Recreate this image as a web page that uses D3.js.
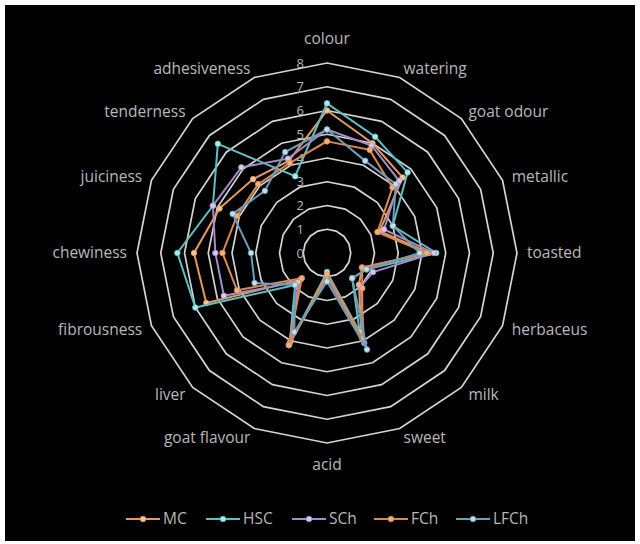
<!DOCTYPE html>
<html>
<head>
<meta charset="utf-8">
<script src="https://cdn.jsdelivr.net/npm/d3@7"></script>
<style>
  html, body { margin: 0; padding: 0; background: #ffffff; }
  svg { display: block; }
  text { font-family: "Open Sans", Lato, sans-serif; fill: #b8b8b8; }
</style>
</head>
<body>
<svg id="chart" width="640" height="544"></svg>
<script>
// Sensory attributes, clockwise from the top
const attributes = ["colour", "watering", "goat odour", "metallic", "toasted", "herbaceus",
  "milk", "sweet", "acid", "goat flavour", "liver", "fibrousness", "chewiness",
  "juiciness", "tenderness", "adhesiveness"];

const ringTicks = [0, 1, 2, 3, 4, 5, 6, 7, 8];

const seriesNames = ["MC", "HSC", "SCh", "FCh", "LFCh"];

// Panel scores per attribute (same order as `attributes`)
const MC   = [6.0, 5.0, 4.5, 2.4, 4.3, 1.6, 1.9, 3.8, 1.0, 4.2, 1.6, 5.5, 5.6, 4.9, 4.4, 4.2];
const HSC  = [6.3, 5.3, 4.8, 3.0, 4.6, 1.8, 1.5, 3.6, 0.8, 4.1, 1.9, 6.0, 6.3, 5.2, 6.5, 3.5];
const SCh  = [5.2, 4.9, 4.3, 2.6, 4.5, 2.1, 2.0, 4.1, 1.0, 4.0, 1.7, 4.7, 4.7, 5.2, 5.1, 4.3];
const FCh  = [4.7, 4.7, 3.9, 2.3, 4.2, 1.6, 2.1, 3.9, 0.9, 4.2, 1.5, 4.1, 4.4, 4.1, 4.1, 4.1];
const LFCh = [5.2, 4.2, 4.1, 3.0, 3.9, 1.8, 1.5, 4.4, 1.2, 3.6, 1.9, 3.3, 3.2, 4.3, 3.7, 4.6];

const seriesValues = [MC, HSC, SCh, FCh, LFCh];
const lineColors   = ["#e39a5c", "#5fbfc4", "#a58bc9", "#dc8a4e", "#6b9fb8"];
const dotColors    = ["#f5c59a", "#a8ecec", "#d8c8f0", "#f2b080", "#c0e0ee"];

const svg = d3.select("#chart");
svg.append("rect").attr("x", 5).attr("y", 5).attr("width", 630).attr("height", 536).attr("fill", "#000");

const cx = 327, cy = 253;
const r = d3.scaleLinear().domain([0, 8]).range([0, 190]);
const angle = d3.scalePoint().domain(d3.range(attributes.length)).range([0, 2 * Math.PI * (attributes.length - 1) / attributes.length]);

const g = svg.append("g").attr("transform", `translate(${cx},${cy})`);

const radial = d3.lineRadial()
  .angle((d, i) => angle(i))
  .radius(d => r(d))
  .curve(d3.curveLinearClosed);

// Polygon grid rings
ringTicks.filter(t => t > 0).forEach(t => {
  g.append("path")
    .attr("d", radial(attributes.map(() => t)))
    .attr("fill", "none")
    .attr("stroke", "#d4d4d4")
    .attr("stroke-width", 1.7);
});

// Ring value labels along the top axis
g.selectAll(".tick").data(ringTicks).enter().append("text")
  .attr("x", -23)
  .attr("y", d => -r(d))
  .attr("dy", "0.35em")
  .attr("text-anchor", "end")
  .style("font-size", "13px")
  .text(d => d);

// Attribute labels
const labelR = 200;
g.selectAll(".attr").data(attributes).enter().append("text")
  .attr("x", (d, i) => labelR * Math.sin(angle(i)))
  .attr("y", (d, i) => -labelR * Math.cos(angle(i)))
  .attr("text-anchor", (d, i) => {
    const s = Math.sin(angle(i));
    return s > 0.01 ? "start" : (s < -0.01 ? "end" : "middle");
  })
  .attr("dy", (d, i) => {
    const c = Math.cos(angle(i));
    if (c > 0.99) return "-0.55em";
    if (c < -0.99) return "1.1em";
    return "0.35em";
  })
  .style("font-size", "15.5px")
  .text(d => d);

// Series polygons and markers
seriesValues.forEach((vals, s) => {
  const sg = g.append("g");
  sg.append("path")
    .attr("d", radial(vals))
    .attr("fill", "none")
    .attr("stroke", lineColors[s])
    .attr("stroke-width", 2);
  sg.selectAll("circle").data(vals).enter().append("circle")
    .attr("cx", (d, i) => r(d) * Math.sin(angle(i)))
    .attr("cy", (d, i) => -r(d) * Math.cos(angle(i)))
    .attr("r", 2.8)
    .attr("fill", dotColors[s])
    .attr("stroke", lineColors[s])
    .attr("stroke-width", 0.8);
});

// Legend
const legendX = [126, 206, 292, 374, 456];
const legendY = 519;
seriesNames.forEach((name, s) => {
  const lg = svg.append("g").attr("transform", `translate(${legendX[s]},${legendY})`);
  lg.append("line").attr("x1", 0).attr("x2", 34).attr("y1", 0).attr("y2", 0)
    .attr("stroke", lineColors[s]).attr("stroke-width", 2);
  lg.append("circle").attr("cx", 17).attr("cy", 0).attr("r", 2.8)
    .attr("fill", dotColors[s]).attr("stroke", lineColors[s]).attr("stroke-width", 0.8);
  lg.append("text").attr("x", 37).attr("y", 0).attr("dy", "0.35em")
    .style("font-size", "15.5px").text(name);
});
</script>
</body>
</html>
